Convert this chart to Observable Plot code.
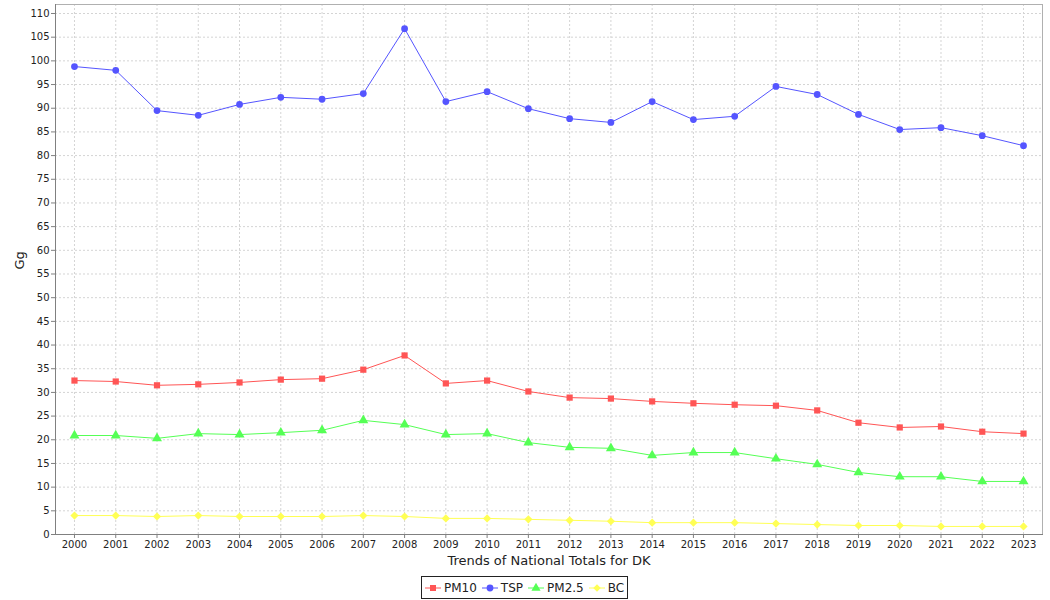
<!DOCTYPE html>
<html>
<head>
<meta charset="utf-8">
<script src="https://cdn.jsdelivr.net/npm/d3@7"></script>
<script src="https://cdn.jsdelivr.net/npm/@observablehq/plot@0.6"></script>
<style>
  body { margin: 0; background: #fff; font-family: "DejaVu Sans", sans-serif; }
  #chart { width: 1050px; height: 570px; }
  #legend { position: absolute; left: 421px; top: 576px; width: 1050px; }
  #legend .box { display: inline-flex; align-items: center; border: 1px solid #222; padding: 0 2px 0 3px; font-size: 12px; color: #222; height: 21px; }
  #legend .item { display: flex; align-items: center; margin-right: 5px; }
  #legend .item:last-child { margin-right: 1px; }
  #legend svg { margin-right: 2px; }
</style>
</head>
<body>
<div id="chart"></div>
<div id="legend"><div class="box" id="lbox"></div></div>
<script>
const years = ["2000","2001","2002","2003","2004","2005","2006","2007","2008","2009","2010","2011","2012","2013","2014","2015","2016","2017","2018","2019","2020","2021","2022","2023"];
const seriesNames = ["PM10", "TSP", "PM2.5", "BC"];
const pm10 = [32.5,32.3,31.5,31.7,32.1,32.7,32.9,34.8,37.8,31.9,32.5,30.2,28.9,28.7,28.1,27.7,27.4,27.2,26.2,23.6,22.6,22.8,21.7,21.3];
const tsp  = [98.8,98.0,89.5,88.5,90.8,92.3,91.9,93.1,106.8,91.4,93.5,89.9,87.8,87.0,91.4,87.6,88.3,94.6,92.9,88.7,85.5,85.9,84.2,82.1];
const pm25 = [20.9,20.9,20.3,21.3,21.1,21.5,22.0,24.1,23.2,21.1,21.3,19.4,18.4,18.2,16.7,17.3,17.3,16.0,14.8,13.1,12.2,12.2,11.2,11.2];
const bc   = [4.0,4.0,3.8,4.0,3.8,3.8,3.8,4.0,3.8,3.4,3.4,3.2,3.0,2.8,2.5,2.5,2.5,2.3,2.1,1.9,1.9,1.7,1.7,1.7];
const colors = ["#FF5555", "#5555FF", "#55FF55", "#FFFF55"];
const symbols = ["square", "circle", "triangle", "diamond2"];
const yTicks = d3.range(0, 111, 5);
const xLabel = "Trends of National Totals for DK";
const yLabel = "Gg";

const valuesBySeries = [pm10, tsp, pm25, bc];
const data = [];
seriesNames.forEach((s, si) => {
  valuesBySeries[si].forEach((v, i) => data.push({series: s, year: years[i], value: v}));
});

const marks = [
  Plot.gridY(yTicks, {stroke: "#d4d4d4", strokeOpacity: 1, strokeDasharray: "2,2"}),
  Plot.gridX(years, {stroke: "#d4d4d4", strokeOpacity: 1, strokeDasharray: "2,2"}),
  Plot.frame({stroke: "#b0b0b0"}),
  Plot.frame({anchor: "left", stroke: "#808080"}),
  Plot.frame({anchor: "bottom", stroke: "#808080"}),
  Plot.axisY(yTicks, {tickSize: 4, tickPadding: 2, fontSize: 10, label: null, stroke: "#808080", fill: "#222"}),
  Plot.axisX(years, {tickSize: 4, tickPadding: 2, fontSize: 10, label: null, stroke: "#808080", fill: "#222"}),
  Plot.text([yLabel], {frameAnchor: "left", dx: -36, rotate: -90, fontSize: 13, fill: "#222"}),
  Plot.text([xLabel], {frameAnchor: "bottom", lineAnchor: "middle", dy: 26, fontSize: 13, fill: "#222"})
];
seriesNames.forEach((s, si) => {
  const d = data.filter(r => r.series === s);
  marks.push(Plot.line(d, {x: "year", y: "value", stroke: colors[si], strokeWidth: 1}));
  marks.push(Plot.dot(d, {x: "year", y: "value", fill: colors[si], stroke: null, symbol: () => symbols[si], r: si === 0 ? 3.5 : (si === 1 ? 3.4 : 3.7)}));
});

const chart = Plot.plot({
  width: 1050,
  height: 570,
  marginLeft: 55,
  marginRight: 8,
  marginTop: 4,
  marginBottom: 36,
  style: {fontFamily: "DejaVu Sans, sans-serif", background: "#fff"},
  x: {type: "point", domain: years, padding: 0.46, round: false, axis: null},
  y: {domain: [0, 111.9], axis: null},
  symbol: {type: "identity"},
  marks
});
document.getElementById("chart").appendChild(chart);

// legend
const lbox = document.getElementById("lbox");
seriesNames.forEach((s, si) => {
  const item = document.createElement("span");
  item.className = "item";
  const svg = d3.create("svg").attr("width", 17).attr("height", 12);
  svg.append("line").attr("x1", 0).attr("x2", 16).attr("y1", 6).attr("y2", 6).attr("stroke", colors[si]);
  const sym = {square: d3.symbolSquare, circle: d3.symbolCircle, triangle: d3.symbolTriangle, diamond2: d3.symbolDiamond2}[symbols[si]];
  svg.append("path").attr("d", d3.symbol(sym, 36)).attr("transform", "translate(8,6)").attr("fill", colors[si]);
  item.appendChild(svg.node());
  const t = document.createElement("span");
  t.textContent = s;
  item.appendChild(t);
  lbox.appendChild(item);
});
</script>
</body>
</html>
